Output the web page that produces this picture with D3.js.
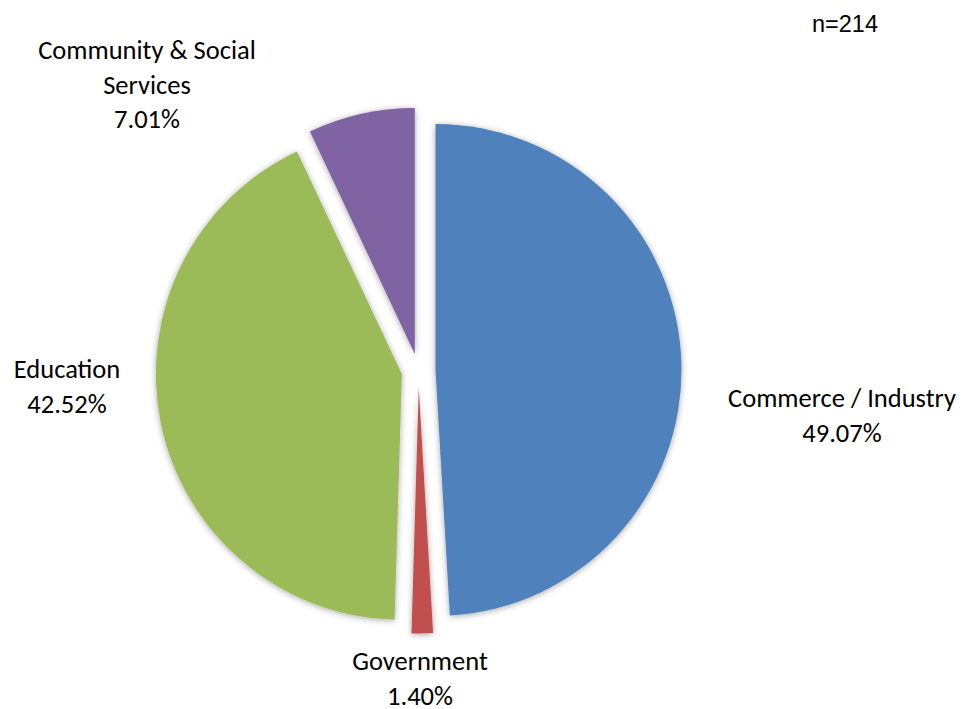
<!DOCTYPE html>
<html>
<head>
<meta charset="utf-8">
<script src="https://cdn.jsdelivr.net/npm/d3@7"></script>
<style>
  html, body { margin: 0; padding: 0; background: #ffffff; }
  svg { display: block; }
  .lbl { font-family: Carlito, Calibri, Lato, "Open Sans", sans-serif; font-size: 26.5px; fill: #000; }
  .note { font-family: "Liberation Sans", Arial, sans-serif; font-size: 23.5px; fill: #000; }
</style>
</head>
<body>
<div id="chart"></div>
<script>
// Sector share of respondents (percent)
const categories = ["Commerce / Industry", "Government", "Education", "Community & Social Services"];
const values = [49.07, 1.40, 42.52, 7.01];
const sampleNote = "n=214";

// Label line breaks for each category
const labelLines = {
  "Commerce / Industry": ["Commerce / Industry"],
  "Government": ["Government"],
  "Education": ["Education"],
  "Community & Social Services": ["Community & Social", "Services"]
};

const width = 966, height = 709;
const cx = 418.5, cy = 370.5, radius = 246, explode = 17;
const lineHeight = 34.5;

// Label placement (center x, first baseline y)
const labelPos = {
  "Commerce / Industry": [842, 407],
  "Government": [420, 670],
  "Education": [67, 378],
  "Community & Social Services": [147, 59]
};

const color = d3.scaleOrdinal()
  .domain(categories)
  .range(["#4F81BD", "#C0504D", "#9BBB59", "#8064A2"]);

const svg = d3.select("#chart").append("svg")
  .attr("width", width).attr("height", height);

const defs = svg.append("defs");
const shadow = defs.append("filter").attr("id", "softShadow")
  .attr("x", "-20%").attr("y", "-20%").attr("width", "140%").attr("height", "140%");
shadow.append("feDropShadow")
  .attr("dx", 0).attr("dy", 1).attr("stdDeviation", 3)
  .attr("flood-color", "#000").attr("flood-opacity", 0.35);

const pie = d3.pie().sort(null).value(d => d.value);
const data = categories.map((c, i) => ({ category: c, value: values[i] }));
const arcs = pie(data);

const arc = d3.arc().innerRadius(0).outerRadius(radius);

const g = svg.append("g").attr("transform", `translate(${cx},${cy})`);

g.selectAll("path.slice")
  .data(arcs)
  .join("path")
  .attr("class", "slice")
  .attr("d", arc)
  .attr("fill", d => color(d.data.category))
  .attr("filter", "url(#softShadow)")
  .attr("transform", d => {
    const mid = (d.startAngle + d.endAngle) / 2;
    return `translate(${explode * Math.sin(mid)},${-explode * Math.cos(mid)})`;
  });

const fmt = d3.format(".2f");

const labels = svg.selectAll("text.lbl")
  .data(arcs)
  .join("text")
  .attr("class", "lbl")
  .attr("text-anchor", "middle")
  .attr("x", d => labelPos[d.data.category][0])
  .attr("y", d => labelPos[d.data.category][1]);

labels.each(function(d) {
  const t = d3.select(this);
  const lines = labelLines[d.data.category].concat([fmt(d.data.value) + "%"]);
  const [x] = labelPos[d.data.category];
  lines.forEach((line, i) => {
    t.append("tspan")
      .attr("x", x)
      .attr("dy", i === 0 ? 0 : lineHeight)
      .text(line);
  });
});

svg.append("text")
  .attr("class", "note")
  .attr("x", 812)
  .attr("y", 31.5)
  .text(sampleNote);
</script>
</body>
</html>
